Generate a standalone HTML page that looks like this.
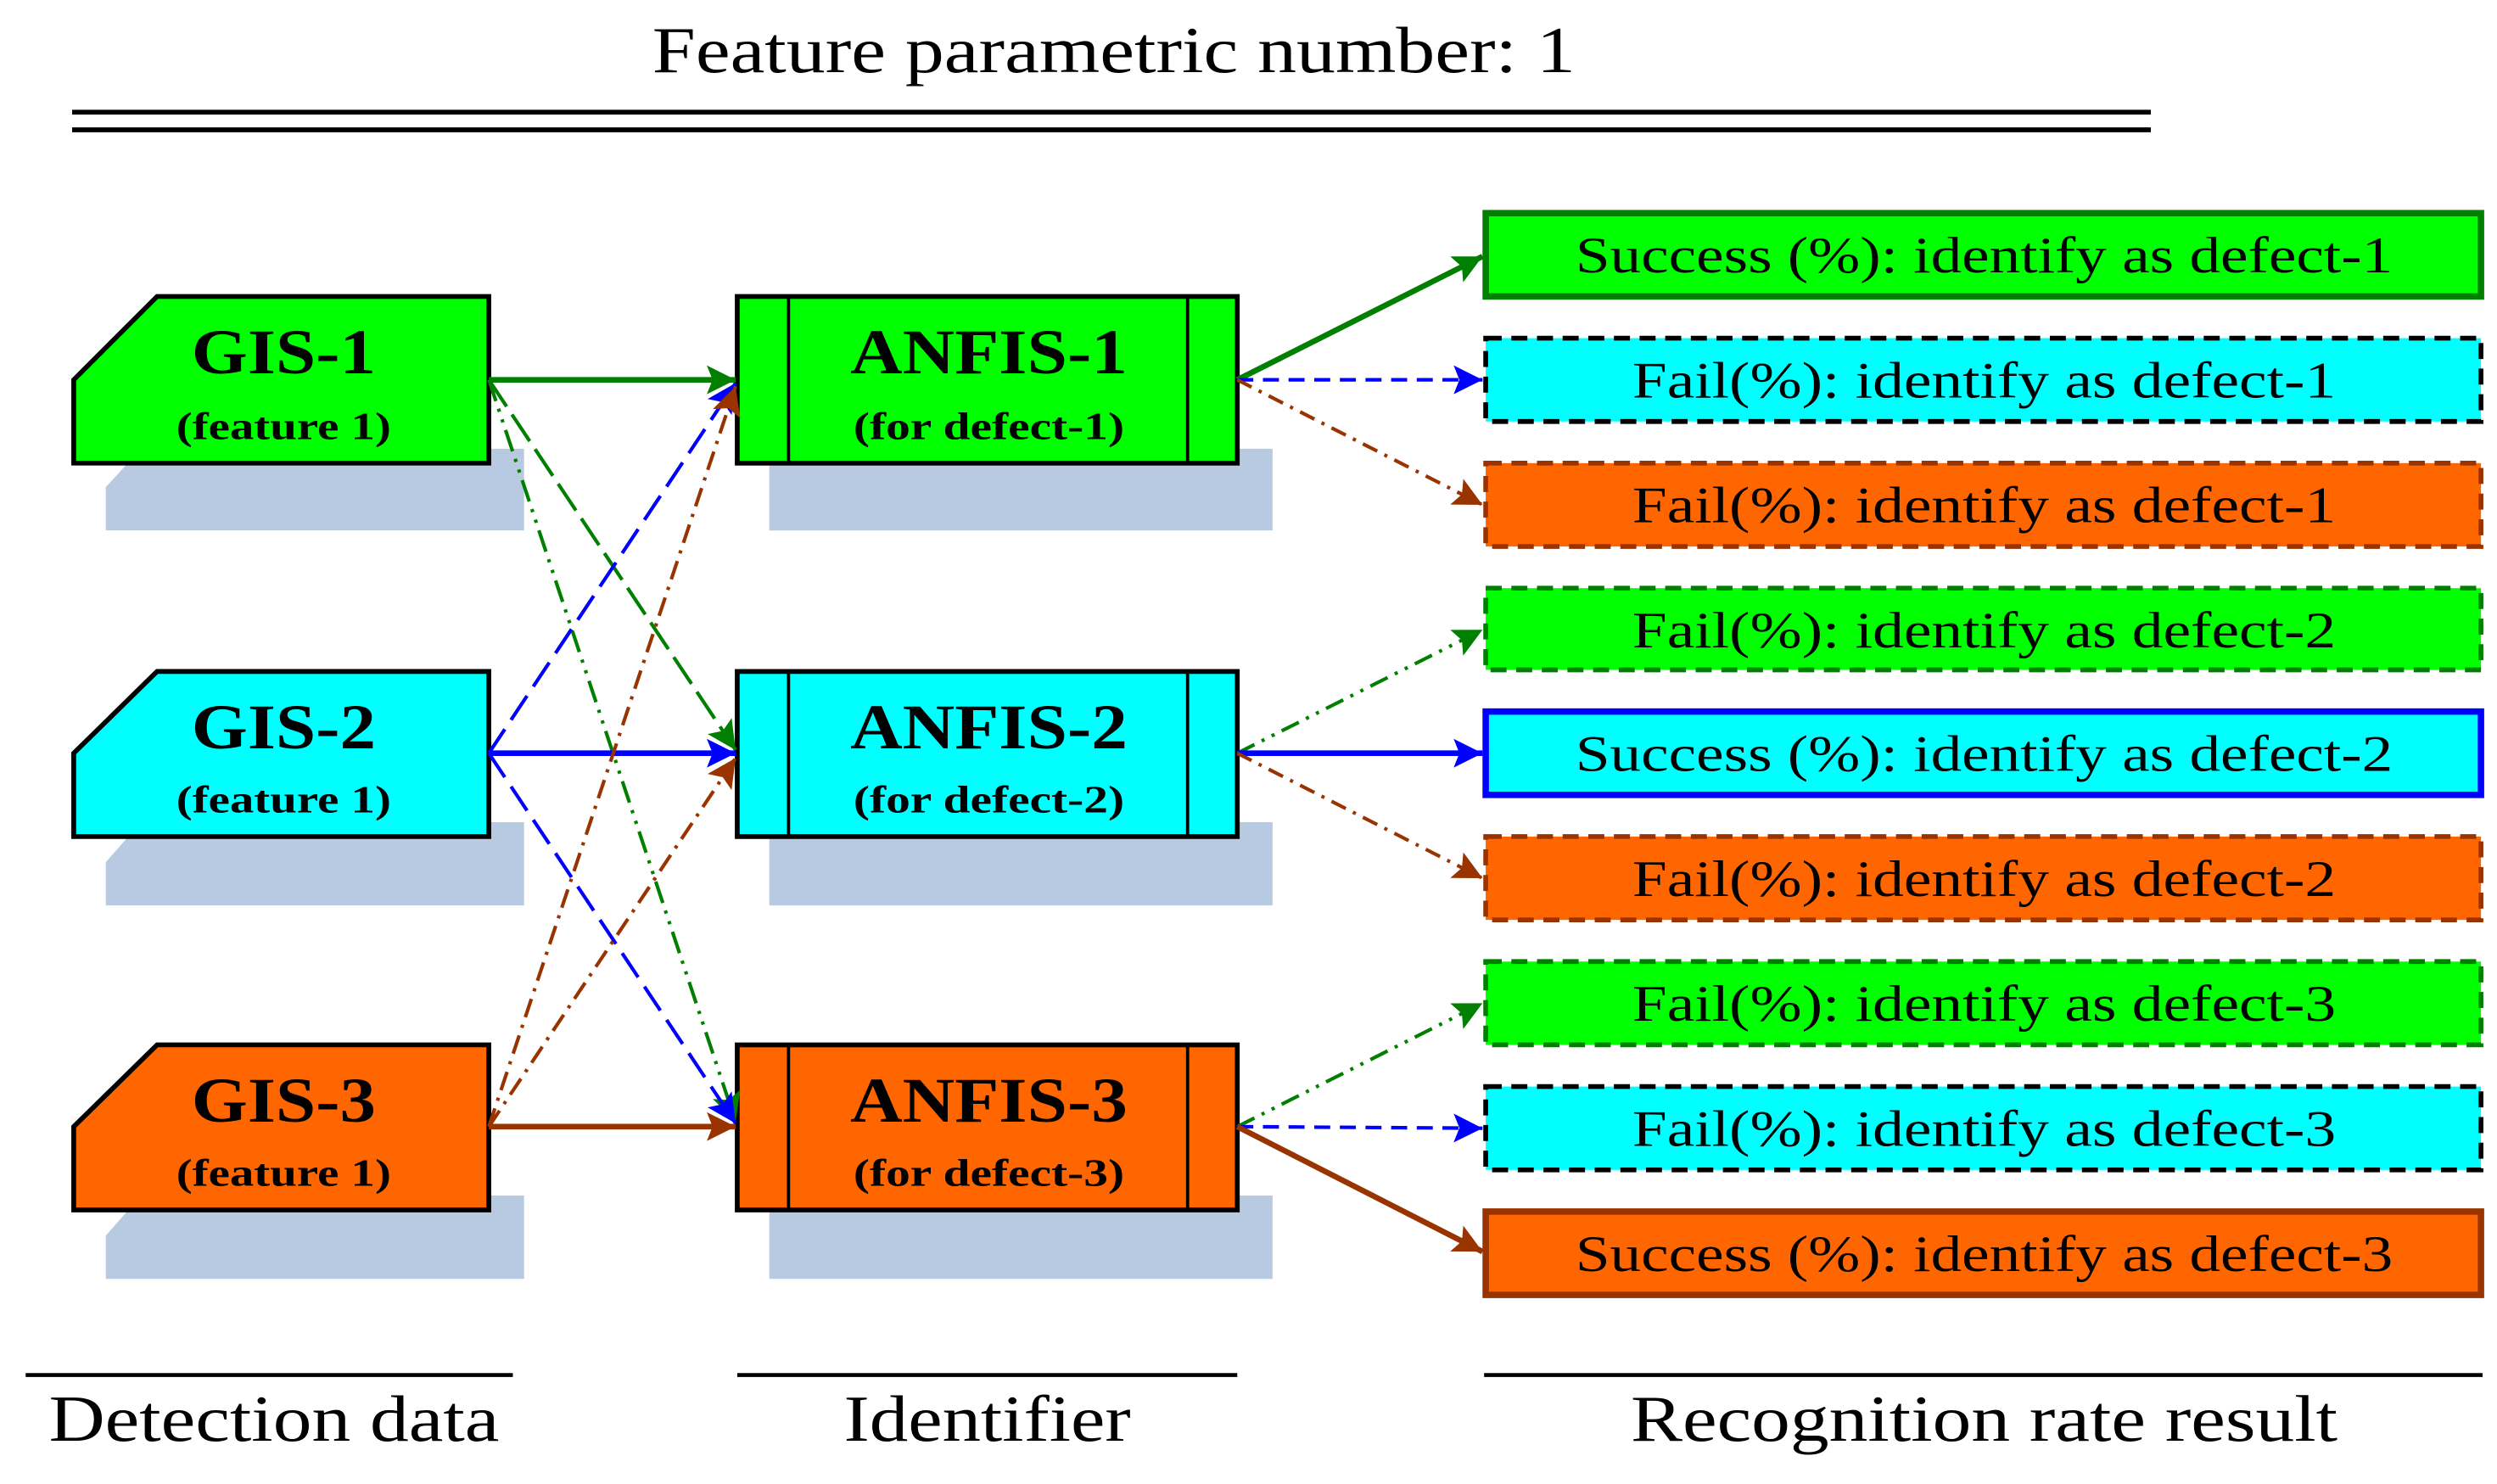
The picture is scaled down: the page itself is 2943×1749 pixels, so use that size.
<!DOCTYPE html>
<html><head><meta charset="utf-8"><style>html,body{margin:0;padding:0;background:#fff}svg{display:block}</style></head>
<body>
<svg width="2943" height="1749" viewBox="0 0 1558 926" preserveAspectRatio="none" xmlns="http://www.w3.org/2000/svg" font-family="'Liberation Serif', serif">
<defs>
<marker id="ag" viewBox="0 0 10 10" refX="10" refY="5" markerWidth="20" markerHeight="18" markerUnits="userSpaceOnUse" orient="auto"><path d="M0,0 L10,5 L0,10 L2,5 Z" fill="#007f00"/></marker>
<marker id="ab" viewBox="0 0 10 10" refX="10" refY="5" markerWidth="20" markerHeight="18" markerUnits="userSpaceOnUse" orient="auto"><path d="M0,0 L10,5 L0,10 L2,5 Z" fill="#0000ff"/></marker>
<marker id="ar" viewBox="0 0 10 10" refX="10" refY="5" markerWidth="20" markerHeight="18" markerUnits="userSpaceOnUse" orient="auto"><path d="M0,0 L10,5 L0,10 L2,5 Z" fill="#993300"/></marker>
</defs>
<text x="695" y="45" font-size="41" text-anchor="middle" textLength="576" lengthAdjust="spacingAndGlyphs">Feature parametric number: 1</text>
<line x1="45" y1="70" x2="1342" y2="70" stroke="#000" stroke-width="3"/>
<line x1="45" y1="81" x2="1342" y2="81" stroke="#000" stroke-width="3"/>

<g fill="#b8c9e2">
<path d="M88,280 H327 V331 H66 V304 Z"/><path d="M88,513 H327 V565 H66 V538 Z"/><path d="M88,746 H327 V798 H66 V771 Z"/>
<rect x="480" y="280" width="314" height="51"/><rect x="480" y="513" width="314" height="52"/><rect x="480" y="746" width="314" height="52"/>
</g>

<g stroke="#000" stroke-width="3">
<path d="M98,185 H305 V289 H46 V237 Z" fill="#00ff00"/>
<path d="M98,419 H305 V522 H46 V470 Z" fill="#00ffff"/>
<path d="M98,652 H305 V755 H46 V703 Z" fill="#ff6600"/>
<rect x="460" y="185" width="312" height="104" fill="#00ff00"/>
<rect x="460" y="419" width="312" height="103" fill="#00ffff"/>
<rect x="460" y="652" width="312" height="103" fill="#ff6600"/>
</g>
<g stroke="#000" stroke-width="2">
<line x1="492" y1="185" x2="492" y2="289"/><line x1="741" y1="185" x2="741" y2="289"/>
<line x1="492" y1="419" x2="492" y2="522"/><line x1="741" y1="419" x2="741" y2="522"/>
<line x1="492" y1="652" x2="492" y2="755"/><line x1="741" y1="652" x2="741" y2="755"/>
</g>
<g font-weight="bold" text-anchor="middle" lengthAdjust="spacingAndGlyphs">
<text x="177" y="233" font-size="40" textLength="115" lengthAdjust="spacingAndGlyphs">GIS-1</text><text x="177" y="274" font-size="24" textLength="134" lengthAdjust="spacingAndGlyphs">(feature 1)</text>
<text x="177" y="467" font-size="40" textLength="115" lengthAdjust="spacingAndGlyphs">GIS-2</text><text x="177" y="507" font-size="24" textLength="134" lengthAdjust="spacingAndGlyphs">(feature 1)</text>
<text x="177" y="700" font-size="40" textLength="115" lengthAdjust="spacingAndGlyphs">GIS-3</text><text x="177" y="740" font-size="24" textLength="134" lengthAdjust="spacingAndGlyphs">(feature 1)</text>
<text x="617" y="233" font-size="40" textLength="173" lengthAdjust="spacingAndGlyphs">ANFIS-1</text><text x="617" y="274" font-size="24" textLength="169" lengthAdjust="spacingAndGlyphs">(for defect-1)</text>
<text x="617" y="467" font-size="40" textLength="173" lengthAdjust="spacingAndGlyphs">ANFIS-2</text><text x="617" y="507" font-size="24" textLength="169" lengthAdjust="spacingAndGlyphs">(for defect-2)</text>
<text x="617" y="700" font-size="40" textLength="173" lengthAdjust="spacingAndGlyphs">ANFIS-3</text><text x="617" y="740" font-size="24" textLength="169" lengthAdjust="spacingAndGlyphs">(for defect-3)</text>
</g>

<g stroke-width="3">
<rect x="927" y="133" width="621" height="52" fill="#00ff00" stroke="#007f00" stroke-width="4"/>
<rect x="927" y="211" width="621" height="52" fill="#00ffff" stroke="#000" stroke-dasharray="10,6"/>
<rect x="927" y="289" width="621" height="52" fill="#ff6600" stroke="#993300" stroke-dasharray="10,6"/>
<rect x="927" y="367" width="621" height="51" fill="#00ff00" stroke="#007f00" stroke-dasharray="10,6"/>
<rect x="927" y="444" width="621" height="52" fill="#00ffff" stroke="#0000ff" stroke-width="4"/>
<rect x="927" y="522" width="621" height="52" fill="#ff6600" stroke="#993300" stroke-dasharray="10,6"/>
<rect x="927" y="600" width="621" height="52" fill="#00ff00" stroke="#007f00" stroke-dasharray="10,6"/>
<rect x="927" y="678" width="621" height="52" fill="#00ffff" stroke="#000" stroke-dasharray="10,6"/>
<rect x="927" y="756" width="621" height="52" fill="#ff6600" stroke="#993300" stroke-width="4"/>
</g>
<g font-size="32" text-anchor="middle">
<text x="1238" y="170" textLength="510" lengthAdjust="spacingAndGlyphs">Success (%): identify as defect-1</text>
<text x="1238" y="248" textLength="439" lengthAdjust="spacingAndGlyphs">Fail(%): identify as defect-1</text>
<text x="1238" y="326" textLength="439" lengthAdjust="spacingAndGlyphs">Fail(%): identify as defect-1</text>
<text x="1238" y="404" textLength="439" lengthAdjust="spacingAndGlyphs">Fail(%): identify as defect-2</text>
<text x="1238" y="481" textLength="510" lengthAdjust="spacingAndGlyphs">Success (%): identify as defect-2</text>
<text x="1238" y="559" textLength="439" lengthAdjust="spacingAndGlyphs">Fail(%): identify as defect-2</text>
<text x="1238" y="637" textLength="439" lengthAdjust="spacingAndGlyphs">Fail(%): identify as defect-3</text>
<text x="1238" y="715" textLength="439" lengthAdjust="spacingAndGlyphs">Fail(%): identify as defect-3</text>
<text x="1238" y="793" textLength="510" lengthAdjust="spacingAndGlyphs">Success (%): identify as defect-3</text>
</g>

<g fill="none" stroke-width="2.2">
<line x1="305" y1="237" x2="459" y2="237" stroke="#007f00" stroke-width="3.5" marker-end="url(#ag)"/>
<line x1="305" y1="237" x2="459" y2="468" stroke="#007f00" stroke-dasharray="20,6" marker-end="url(#ag)"/>
<line x1="305" y1="237" x2="459" y2="700" stroke="#007f00" stroke-dasharray="14,5,2,5,2,5" marker-end="url(#ag)"/>
<line x1="305" y1="470" x2="459" y2="239" stroke="#0000ff" stroke-dasharray="18,7" marker-end="url(#ab)"/>
<line x1="305" y1="470" x2="459" y2="470" stroke="#0000ff" stroke-width="3.5" marker-end="url(#ab)"/>
<line x1="305" y1="470" x2="459" y2="701" stroke="#0000ff" stroke-dasharray="18,7" marker-end="url(#ab)"/>
<line x1="305" y1="703" x2="459" y2="241" stroke="#993300" stroke-dasharray="12,5,2,5" marker-end="url(#ar)"/>
<line x1="305" y1="703" x2="459" y2="473" stroke="#993300" stroke-dasharray="12,5,2,5" marker-end="url(#ar)"/>
<line x1="305" y1="703" x2="459" y2="703" stroke="#993300" stroke-width="3.5" marker-end="url(#ar)"/>
<line x1="772" y1="237" x2="925" y2="160" stroke="#007f00" stroke-width="3.5" marker-end="url(#ag)"/>
<line x1="772" y1="237" x2="925" y2="237" stroke="#0000ff" stroke-dasharray="10,6" marker-end="url(#ab)"/>
<line x1="772" y1="237" x2="925" y2="315" stroke="#993300" stroke-dasharray="10,5,2,5" marker-end="url(#ar)"/>
<line x1="772" y1="470" x2="925" y2="393" stroke="#007f00" stroke-dasharray="12,5,2,5,2,5" marker-end="url(#ag)"/>
<line x1="772" y1="470" x2="925" y2="470" stroke="#0000ff" stroke-width="3.5" marker-end="url(#ab)"/>
<line x1="772" y1="470" x2="925" y2="548" stroke="#993300" stroke-dasharray="10,5,2,5" marker-end="url(#ar)"/>
<line x1="772" y1="703" x2="925" y2="626" stroke="#007f00" stroke-dasharray="12,5,2,5,2,5" marker-end="url(#ag)"/>
<line x1="772" y1="703" x2="925" y2="704" stroke="#0000ff" stroke-dasharray="10,6" marker-end="url(#ab)"/>
<line x1="772" y1="703" x2="925" y2="781" stroke="#993300" stroke-width="3.5" marker-end="url(#ar)"/>
</g>

<g stroke="#000" stroke-width="2.5">
<line x1="16" y1="858" x2="320" y2="858"/><line x1="460" y1="858" x2="772" y2="858"/><line x1="926" y1="858" x2="1549" y2="858"/>
</g>
<g font-size="41" text-anchor="middle">
<text x="171" y="899" textLength="281" lengthAdjust="spacingAndGlyphs">Detection data</text>
<text x="616" y="899" textLength="179" lengthAdjust="spacingAndGlyphs">Identifier</text>
<text x="1238" y="899" textLength="441" lengthAdjust="spacingAndGlyphs">Recognition rate result</text>
</g>
</svg>
</body></html>
